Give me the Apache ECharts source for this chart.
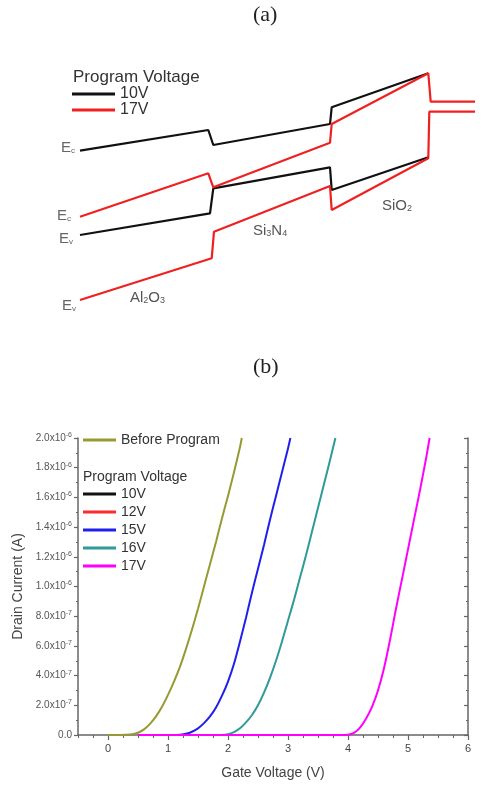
<!DOCTYPE html>
<html>
<head>
<meta charset="utf-8">
<script src="https://cdn.jsdelivr.net/npm/echarts@6/dist/echarts.min.js"></script>
<style>
  html, body { margin: 0; padding: 0; background: #fff; }
  #chart { width: 482px; height: 801px; }
</style>
</head>
<body>
<div id="chart"></div>
<script>
var chart = echarts.init(document.getElementById("chart"));
var FONT = "Liberation Sans, Arial, sans-serif";

// (a) band diagram: [position, energy] in arbitrary units
var ec10 = [[0, 14.93], [12.83, 17.0], [13.33, 15.5], [25.0, 17.6], [25.17, 19.27], [34.83, 22.67]];
var ev10 = [[0, 6.5], [13.0, 8.67], [13.33, 11.17], [25.0, 13.27], [25.17, 11.0], [34.83, 14.27]];
var ec17 = [[0, 8.33], [12.83, 12.67], [13.33, 11.27], [25.0, 15.73], [25.17, 17.6], [34.83, 22.67], [35.07, 19.83], [39.5, 19.83]];
var ev17 = [[0, 0], [13.17, 4.17], [13.4, 6.83], [25.0, 11.4], [25.17, 9.0], [34.83, 14.17], [34.93, 18.83], [39.5, 18.83]];

// (b) transfer curves: gate voltage (V) and drain current (x1e-7 A)
var beforeV = [0, 0.2, 0.3, 0.4, 0.5, 0.6, 0.7, 0.8, 0.9, 1.0, 1.1, 1.2, 1.3, 1.4, 1.5, 1.6, 1.7, 1.8, 1.9, 2.0, 2.1, 2.2, 2.23];
var beforeI = [0, 0, 0.01, 0.05, 0.15, 0.38, 0.75, 1.25, 1.9, 2.7, 3.6, 4.6, 5.8, 7.1, 8.5, 10.0, 11.5, 13.0, 14.6, 16.1, 17.7, 19.4, 20.0];
var v10V = [];   // hidden under other curves in the figure
var v10I = [];
var v12V = [];
var v12I = [];
var v15V = [0.5, 1.1, 1.2, 1.3, 1.4, 1.5, 1.6, 1.7, 1.8, 1.9, 2.0, 2.1, 2.2, 2.3, 2.4, 2.5, 2.6, 2.7, 2.8, 2.9, 3.0, 3.04];
var v15I = [0, 0, 0.02, 0.08, 0.22, 0.45, 0.8, 1.25, 1.85, 2.65, 3.6, 4.8, 6.3, 7.9, 9.6, 11.2, 12.8, 14.5, 16.1, 17.7, 19.3, 20.0];
var v16V = [0.5, 1.9, 2.0, 2.1, 2.2, 2.3, 2.4, 2.5, 2.6, 2.7, 2.8, 2.9, 3.0, 3.1, 3.2, 3.3, 3.4, 3.5, 3.6, 3.7, 3.79];
var v16I = [0, 0, 0.05, 0.2, 0.45, 0.85, 1.35, 2.0, 2.85, 3.85, 5.0, 6.3, 7.7, 9.1, 10.6, 12.1, 13.7, 15.3, 16.9, 18.5, 20.0];
var v17V = [0.5, 3.9, 4.0, 4.1, 4.2, 4.3, 4.4, 4.5, 4.6, 4.7, 4.8, 4.9, 5.0, 5.1, 5.2, 5.3, 5.36];
var v17I = [0, 0, 0.02, 0.15, 0.5, 1.1, 1.9, 3.0, 4.5, 6.4, 8.5, 10.5, 12.5, 14.5, 16.5, 18.6, 20.0];

var xTicks = [0, 1, 2, 3, 4, 5, 6];

function pairs(xs, ys) {
  return xs.map(function (x, i) { return [x, ys[i]]; });
}

function bandLine(name, data, color) {
  return {
    name: name,
    type: "line",
    xAxisIndex: 0,
    yAxisIndex: 0,
    data: data,
    symbol: "none",
    clip: false,
    lineStyle: { color: color, width: 2.2 },
  };
}

function ivLine(name, xs, ys, color) {
  return {
    name: name,
    type: "line",
    xAxisIndex: 1,
    yAxisIndex: 1,
    data: pairs(xs, ys),
    symbol: "none",
    smooth: 0.35,
    lineStyle: { color: color, width: 2 },
    itemStyle: { color: color },
  };
}

function supLabel(v) {
  if (v === 0) return "{m|0.0}";
  if (v < 10) return "{m|" + v.toFixed(1) + "x10}{s|-7}";
  return "{m|" + (v / 10).toFixed(1) + "x10}{s|-6}";
}

var labelRich = {
  m: { fontSize: 10, color: "#555", fontFamily: FONT },
  s: { fontSize: 7, color: "#555", fontFamily: FONT, verticalAlign: "top", padding: [0, 0, 6, 0] },
};

function eLabel(sub, left, top) {
  return {
    type: "text",
    left: left,
    top: top,
    style: {
      text: "{e|E}{s|" + sub + "}",
      rich: {
        e: { fontSize: 15, fontFamily: FONT, fill: "#666" },
        s: { fontSize: 8, fontFamily: FONT, fill: "#666", verticalAlign: "bottom" },
      },
    },
  };
}

function layerLabel(parts, left, top) {
  var text = parts.map(function (p, i) {
    return (i % 2 === 0 ? "{n|" : "{s|") + p + "}";
  }).join("");
  return {
    type: "text",
    left: left,
    top: top,
    style: {
      text: text,
      rich: {
        n: { fontSize: 15, fontFamily: FONT, fill: "#555" },
        s: { fontSize: 9, fontFamily: FONT, fill: "#555", verticalAlign: "bottom" },
      },
    },
  };
}

var option = {
  animation: false,
  backgroundColor: "#fff",
  title: [
    {
      text: "(a)",
      left: 253,
      top: 4,
      padding: 0,
      textStyle: { fontFamily: "Liberation Serif", fontSize: 22, fontWeight: "normal", color: "#222" },
    },
    {
      text: "(b)",
      left: 253,
      top: 356,
      padding: 0,
      textStyle: { fontFamily: "Liberation Serif", fontSize: 22, fontWeight: "normal", color: "#222" },
    },
  ],
  grid: [
    { left: 80, right: 7, top: 70, bottom: 501, outerBoundsMode: "none" },
    { left: 78, right: 14, top: 438, bottom: 66, outerBoundsMode: "none" },
  ],
  legend: [
    {
      selectedMode: false,
      orient: "vertical",
      left: 72,
      top: 86,
      padding: 0,
      itemGap: 0,
      itemWidth: 43,
      itemHeight: 3,
      icon: "rect",
      textStyle: { fontSize: 16, color: "#333", fontFamily: FONT },
      data: [
        { name: "10V", itemStyle: { color: "#111", borderWidth: 0 } },
        { name: "17V", itemStyle: { color: "#f02020", borderWidth: 0 } },
      ],
    },
    {
      selectedMode: false,
      orient: "vertical",
      left: 83,
      top: 433,
      padding: 0,
      itemWidth: 33,
      itemHeight: 3,
      icon: "rect",
      textStyle: { fontSize: 14, color: "#333", fontFamily: FONT },
      data: [{ name: "Before Program", itemStyle: { color: "#999933", borderWidth: 0 } }],
    },
    {
      selectedMode: false,
      orient: "vertical",
      left: 83,
      top: 487,
      padding: 0,
      itemGap: 4,
      itemWidth: 33,
      itemHeight: 3,
      icon: "rect",
      textStyle: { fontSize: 14, color: "#333", fontFamily: FONT },
      data: [
        { name: "10V", itemStyle: { color: "#111", borderWidth: 0 } },
        { name: "12V", itemStyle: { color: "#ff2a2a", borderWidth: 0 } },
        { name: "15V", itemStyle: { color: "#1f1ff0", borderWidth: 0 } },
        { name: "16V", itemStyle: { color: "#2f9a96", borderWidth: 0 } },
        { name: "17V", itemStyle: { color: "#ff00ff", borderWidth: 0 } },
      ],
    },
  ],
  xAxis: [
    { gridIndex: 0, type: "value", min: 0, max: 39.5, show: false },
    {
      gridIndex: 1,
      type: "value",
      position: "bottom",
      min: -0.5,
      max: 6,
      interval: 0.5,
      name: "Gate Voltage (V)",
      nameLocation: "middle",
      nameGap: 31,
      nameTextStyle: { fontSize: 14, color: "#444", fontFamily: FONT },
      axisLine: { onZero: false, lineStyle: { color: "#666", width: 1.5 } },
      axisTick: { customValues: xTicks, length: 5, lineStyle: { color: "#666", width: 1.2 } },
      axisLabel: { customValues: xTicks, margin: 8, fontSize: 11, color: "#444", fontFamily: FONT },
      splitLine: { show: false },
    },
    {
      // minor ticks along the bottom axis
      gridIndex: 1,
      type: "value",
      position: "bottom",
      min: -0.5,
      max: 6,
      interval: 0.25,
      axisLine: { show: false, onZero: false },
      axisTick: { length: 3, lineStyle: { color: "#666", width: 1 } },
      axisLabel: { show: false },
      splitLine: { show: false },
    },
  ],
  yAxis: [
    { gridIndex: 0, type: "value", min: 0, max: 23, show: false },
    {
      gridIndex: 1,
      type: "value",
      position: "left",
      min: 0,
      max: 20,
      interval: 2,
      name: "Drain Current (A)",
      nameLocation: "middle",
      nameRotate: 90,
      nameGap: 49,
      nameTextStyle: { fontSize: 14, color: "#444", fontFamily: FONT },
      axisLine: { show: true, onZero: false, lineStyle: { color: "#666", width: 1.5 } },
      axisTick: { show: true, length: 4, lineStyle: { color: "#666", width: 1.2 } },
      minorTick: { show: true, splitNumber: 2, length: 2, lineStyle: { color: "#666" } },
      axisLabel: { margin: 6, formatter: supLabel, rich: labelRich },
      splitLine: { show: false },
    },
    {
      gridIndex: 1,
      type: "value",
      position: "right",
      min: 0,
      max: 20,
      interval: 2,
      axisLine: { show: true, onZero: false, lineStyle: { color: "#666", width: 1.5 } },
      axisTick: { show: true, inside: true, length: 4, lineStyle: { color: "#666", width: 1.2 } },
      minorTick: { show: true, splitNumber: 2, length: 2, lineStyle: { color: "#666" } },
      axisLabel: { show: false },
      splitLine: { show: false },
    },
  ],
  graphic: [
    { type: "text", left: 73, top: 69, style: { text: "Program Voltage", fontSize: 17, fontFamily: FONT, fill: "#333" } },
    { type: "text", left: 83, top: 470, style: { text: "Program Voltage", fontSize: 14, fontFamily: FONT, fill: "#333" } },
    eLabel("c", 61, 140),
    eLabel("c", 57, 208),
    eLabel("v", 59, 231),
    eLabel("v", 62, 298),
    layerLabel(["Al", "2", "O", "3"], 130, 290),
    layerLabel(["Si", "3", "N", "4"], 253, 223),
    layerLabel(["SiO", "2"], 382, 198),
  ],
  series: [
    bandLine("10V", ec10, "#111"),
    bandLine("10V", ev10, "#111"),
    bandLine("17V", ec17, "#f02020"),
    bandLine("17V", ev17, "#f02020"),
    ivLine("Before Program", beforeV, beforeI, "#999933"),
    ivLine("10V", v10V, v10I, "#111"),
    ivLine("12V", v12V, v12I, "#ff2a2a"),
    ivLine("15V", v15V, v15I, "#1f1ff0"),
    ivLine("16V", v16V, v16I, "#2f9a96"),
    ivLine("17V", v17V, v17I, "#ff00ff"),
  ],
};
chart.setOption(option);
</script>
</body>
</html>
